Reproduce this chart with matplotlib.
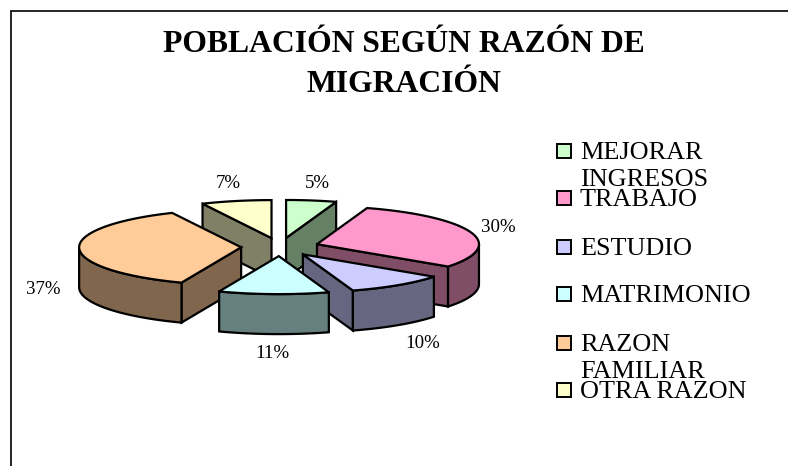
import numpy as np
import matplotlib
matplotlib.use("Agg")
import matplotlib.pyplot as plt
from matplotlib.patches import Polygon, Rectangle

categories = ["MEJORAR\nINGRESOS", "TRABAJO", "ESTUDIO", "MATRIMONIO", "RAZON\nFAMILIAR", "OTRA RAZON"]
values = [5, 30, 10, 11, 37, 7]
top_colors = ["#CCFFCC", "#FF99CC", "#CCCCFF", "#CCFFFF", "#FFCC99", "#FFFFCC"]
side_colors = ["#668066", "#804D66", "#666680", "#668080", "#80664D", "#808066"]
title = "POBLACIÓN SEGÚN RAZÓN DE\nMIGRACIÓN"

# pixel layout of the picture
cx, cy = 280, 247
rx, ry = 162, 38
depth = 40
explode = 0.24
label_xy = [(317, 183), (498, 228), (423, 343), (272, 353), (43, 290), (228, 184)]
legend_y = [151, 198, 247, 294, 343, 390]
draw_order = [5, 0, 1, 4, 2, 3]

plt.rcParams["font.family"] = ["Liberation Serif", "DejaVu Serif"]
fig = plt.figure(figsize=(7.88, 4.66), dpi=100)
ax = fig.add_axes([0, 0, 1, 1])
ax.set_xlim(0, 788)
ax.set_ylim(466, 0)
ax.axis("off")

# chart frame, only left and top are in the picture
ax.plot([11, 11, 788], [466, 11, 11], color="black", lw=1.2, solid_joinstyle="miter")


def pt(theta, ox, oy):
    # theta is clockwise from the top, in degrees
    t = np.radians(theta)
    return np.column_stack([ox + rx * np.sin(t), oy - ry * np.cos(t)])


def face(xy, color, z):
    ax.add_patch(Polygon(xy, closed=True, facecolor=color, edgecolor="black", lw=1.6, joinstyle="miter", zorder=z))


def wall(edge, color, z):
    low = edge + [0, depth]
    face(np.vstack([edge, low[::-1]]), color, z)


edges = np.cumsum([0] + values) * 3.6
for n, i in enumerate(draw_order):
    a, b = edges[i], edges[i + 1]
    mid = (a + b) / 2
    ox = cx + explode * rx * np.sin(np.radians(mid))
    oy = cy - explode * ry * np.cos(np.radians(mid))
    apex = np.array([[ox, oy]])
    z = 2 + n
    # cut faces, only the ones turned to the viewer
    if np.sin(np.radians(a)) < -1e-9:
        wall(np.vstack([apex, pt(np.array([a]), ox, oy)]), side_colors[i], z)
    if np.sin(np.radians(b)) > 1e-9:
        wall(np.vstack([apex, pt(np.array([b]), ox, oy)]), side_colors[i], z)
    # outer wall, front half of the ellipse
    fa, fb = max(a, 90), min(b, 270)
    if fb > fa:
        wall(pt(np.linspace(fa, fb, 60), ox, oy), side_colors[i], z)
    face(np.vstack([apex, pt(np.linspace(a, b, 120), ox, oy)]), top_colors[i], z)

for v, (x, y) in zip(values, label_xy):
    ax.text(x, y, f"{v}%", fontsize=13.6, ha="center", va="center", color="black", zorder=20)

ax.text(404, 65, title, fontsize=22.8, fontweight="bold", ha="center", va="center", linespacing=1.5)

for name, color, y in zip(categories, top_colors, legend_y):
    ax.add_patch(Rectangle((557, y - 7), 14, 14, facecolor=color, edgecolor="black", lw=1.4))
    ax.text(580, y - 9, name, fontsize=18.8, ha="left", va="top", linespacing=1.3)

fig.savefig("out.png", dpi=100)
